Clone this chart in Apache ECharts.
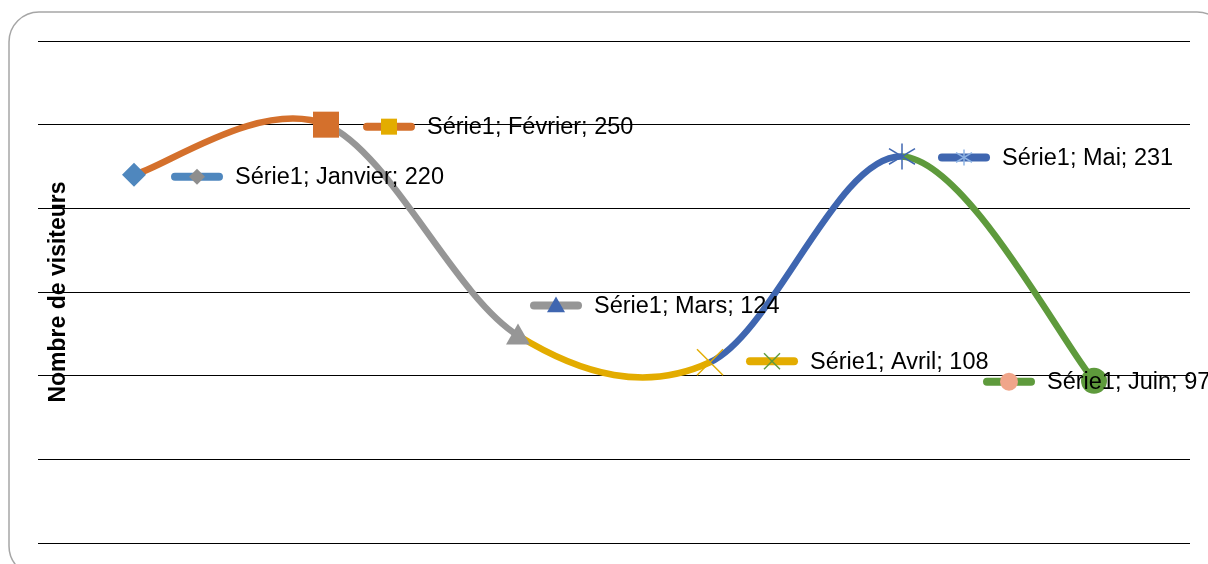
<!DOCTYPE html>
<html>
<head>
<meta charset="utf-8">
<script src="https://cdn.jsdelivr.net/npm/echarts@6/dist/echarts.min.js"></script>
<style>
html,body{margin:0;padding:0;background:#fff;}
#chart{width:1208px;height:564px;}
</style>
</head>
<body>
<div id="chart"></div>
<script>
// ---- data ----
const seriesName = 'Série1';
const categories = ['Janvier', 'Février', 'Mars', 'Avril', 'Mai', 'Juin'];
const visitors = [220, 250, 124, 108, 231, 97];
const axisTitle = 'Nombre de visiteurs';
const yMin = 0, yMax = 300, yStep = 50;

// ---- styles ----
const FONT = 'Liberation Sans';
const pointColors = ['#4F87BE', '#D4702C', '#969696', '#E3AC00', '#3F66B0', '#5E9A3C'];
const keyMarkerColors = ['#8E8E8E', '#E3AC00', '#3F66B0', '#5E9A3C', '#8FB4E3', '#F0A58A'];
const markerShapes = ['diamond', 'square', 'triangle', 'x', 'star', 'circle'];
const markerSizes = [24, 26, 24, 26, 26, 26];
const keyMarkerSizes = [16, 16, 18, 16, 16, 18];
const labelOffsets = [[37, 2], [37, 2], [12, -30], [36, -1], [36, 1], [-111, 1]];

function markerShape(kind, x, y, s, color) {
  const h = s / 2;
  switch (kind) {
    case 'diamond':
      return {type: 'polygon', shape: {points: [[x, y - h], [x + h, y], [x, y + h], [x - h, y]]}, style: {fill: color}};
    case 'square':
      return {type: 'rect', shape: {x: x - h, y: y - h, width: s, height: s}, style: {fill: color}};
    case 'triangle':
      return {type: 'polygon', shape: {points: [[x, y - h], [x + h, y + h * 0.75], [x - h, y + h * 0.75]]}, style: {fill: color}};
    case 'x':
      return {type: 'group', children: [
        {type: 'line', shape: {x1: x - h, y1: y - h, x2: x + h, y2: y + h}, style: {stroke: color, lineWidth: 1.5}},
        {type: 'line', shape: {x1: x - h, y1: y + h, x2: x + h, y2: y - h}, style: {stroke: color, lineWidth: 1.5}}
      ]};
    case 'star':
      return {type: 'group', children: [
        {type: 'line', shape: {x1: x, y1: y - h, x2: x, y2: y + h}, style: {stroke: color, lineWidth: 1.5}},
        {type: 'line', shape: {x1: x - h, y1: y - h * 0.6, x2: x + h, y2: y + h * 0.6}, style: {stroke: color, lineWidth: 1.5}},
        {type: 'line', shape: {x1: x - h, y1: y + h * 0.6, x2: x + h, y2: y - h * 0.6}, style: {stroke: color, lineWidth: 1.5}}
      ]};
    default:
      return {type: 'circle', shape: {cx: x, cy: y, r: h}, style: {fill: color}};
  }
}

const pointData = visitors.map((v, i) => [i, v]);
const n = visitors.length;

const chart = echarts.init(document.getElementById('chart'), null, {renderer: 'canvas'});
chart.setOption({
  animation: false,
  backgroundColor: '#fff',
  graphic: [{
    type: 'rect', z: -10, silent: true,
    shape: {x: 9, y: 12, width: 1218, height: 564, r: 30},
    style: {fill: 'none', stroke: '#a6a6a6', lineWidth: 1.5}
  }],
  grid: {left: 38, right: 18, top: 41, bottom: 21},
  xAxis: {
    type: 'category', data: categories, boundaryGap: true,
    axisLine: {show: false}, axisTick: {show: false}, axisLabel: {show: false}
  },
  yAxis: {
    type: 'value', min: yMin, max: yMax, interval: yStep,
    name: axisTitle, nameLocation: 'middle', nameRotate: 90, nameGap: -32,
    nameTextStyle: {fontFamily: FONT, fontSize: 23, fontWeight: 'bold', color: '#000'},
    axisLine: {show: false}, axisTick: {show: false}, axisLabel: {show: false},
    splitLine: {lineStyle: {color: '#000', width: 1}}
  },
  series: [
    {
      // smoothed line, one coloured segment per point (Catmull-Rom like Excel)
      name: seriesName, type: 'custom', data: pointData, z: 2,
      renderItem: function (params, api) {
        const i = params.dataIndex;
        if (i === 0) return {type: 'group', children: []};
        const P = k => {
          const kk = Math.max(0, Math.min(n - 1, k));
          return api.coord([kk, visitors[kk]]);
        };
        const p0 = P(i - 2), p1 = P(i - 1), p2 = P(i), p3 = P(i + 1);
        return {
          type: 'bezierCurve',
          shape: {
            x1: p1[0], y1: p1[1], x2: p2[0], y2: p2[1],
            cpx1: p1[0] + (p2[0] - p0[0]) / 6, cpy1: p1[1] + (p2[1] - p0[1]) / 6,
            cpx2: p2[0] - (p3[0] - p1[0]) / 6, cpy2: p2[1] - (p3[1] - p1[1]) / 6
          },
          style: {stroke: pointColors[i], lineWidth: 6.5, fill: 'none', lineCap: 'butt'}
        };
      }
    },
    {
      name: seriesName + ' marqueurs', type: 'custom', data: pointData, z: 3,
      renderItem: function (params, api) {
        const i = params.dataIndex;
        const p = api.coord([api.value(0), api.value(1)]);
        return markerShape(markerShapes[i], p[0], p[1], markerSizes[i], pointColors[i]);
      }
    },
    {
      name: seriesName + ' étiquettes', type: 'custom', data: pointData, z: 4,
      renderItem: function (params, api) {
        const i = params.dataIndex;
        const p = api.coord([api.value(0), api.value(1)]);
        const x0 = p[0] + labelOffsets[i][0];
        const y0 = p[1] + labelOffsets[i][1];
        return {type: 'group', children: [
          {type: 'line', shape: {x1: x0 + 4, y1: y0, x2: x0 + 48, y2: y0},
           style: {stroke: pointColors[i], lineWidth: 8, lineCap: 'round'}},
          markerShape(markerShapes[i], x0 + 26, y0, keyMarkerSizes[i], keyMarkerColors[i]),
          {type: 'text', style: {
            text: seriesName + '; ' + categories[i] + '; ' + visitors[i],
            x: x0 + 64, y: y0 + 1, fill: '#000',
            font: '23.5px "' + FONT + '"', align: 'left', verticalAlign: 'middle'
          }}
        ]};
      }
    }
  ]
});
</script>
</body>
</html>
